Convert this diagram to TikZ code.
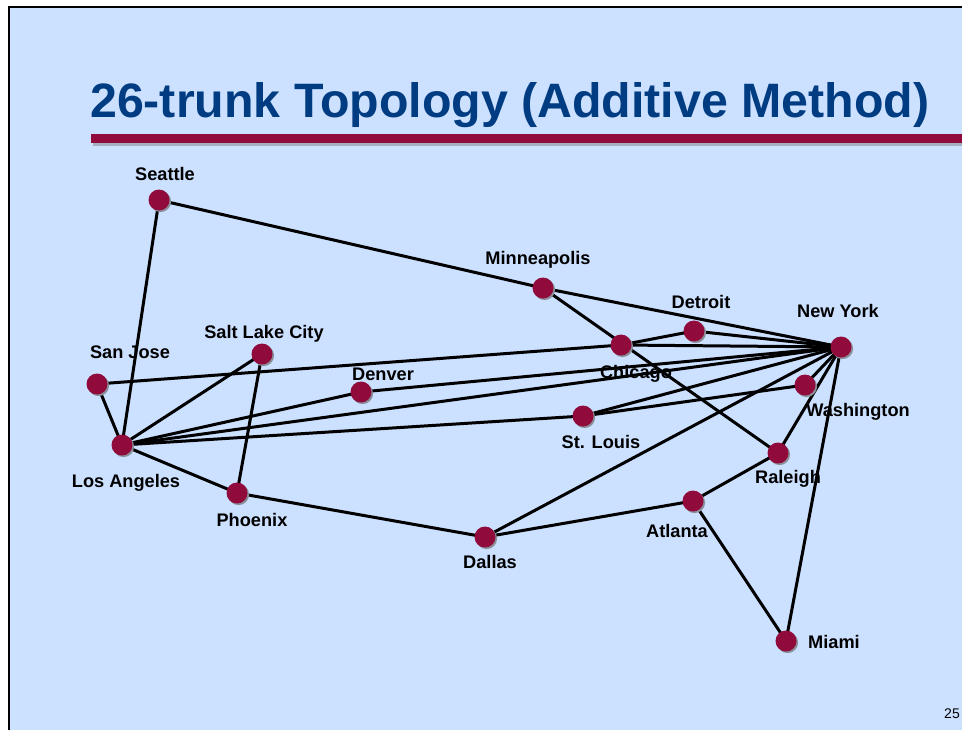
\documentclass[tikz,border=0pt]{standalone}
\usepackage{fontspec}
\setmainfont{Liberation Sans}
\usetikzlibrary{backgrounds}
\definecolor{slidebg}{HTML}{CCE0FF}
\definecolor{titleblue}{HTML}{003C82}
\definecolor{trunkred}{HTML}{900A3C}
\definecolor{shadowgray}{HTML}{8A8E98}
\begin{document}
\begin{tikzpicture}[x=1pt,y=-1pt,
  city/.style={circle, fill=trunkred, minimum size=21pt, inner sep=0pt,
    preaction={fill=shadowgray, transform canvas={xshift=1.6pt,yshift=-1.6pt}}},
  citylabel/.style={anchor=base, inner sep=0pt, font=\fontsize{18.2pt}{20pt}\selectfont\bfseries},
  trunk/.style={line width=3pt, black}
]
\useasboundingbox (0,0) rectangle (962,729);

% slide frame, kept beneath the trunks
\begin{scope}[on background layer]
  \fill[white] (0,0) rectangle (962,729);
  \clip (0,0) rectangle (962,729);
  \draw[line width=2pt, fill=slidebg] (9,7) rectangle (975,745);
\end{scope}

% title and rule
\node[anchor=base west, inner sep=0pt, text=titleblue,
  font=\fontsize{48.3pt}{52pt}\selectfont\bfseries] (title) at (90,117)
  {26-trunk Topology (Additive Method)};
\fill[shadowgray!60!slidebg] (93,136) rectangle (962,145.5);
\fill[trunkred] (91,134) rectangle (962,143);

% cities
\node[city] (sea) at (159,200) {};
\node[city] (min) at (543,288) {};
\node[city] (det) at (694,331) {};
\node[city] (ny)  at (841,347) {};
\node[city] (chi) at (621,345) {};
\node[city] (was) at (805,385) {};
\node[city] (stl) at (583,416) {};
\node[city] (ral) at (778,453) {};
\node[city] (atl) at (693,501) {};
\node[city] (mia) at (786,641) {};
\node[city] (dal) at (485,537) {};
\node[city] (phx) at (237,493) {};
\node[city] (la)  at (122,445) {};
\node[city] (sj)  at (97,384) {};
\node[city] (slc) at (262,354) {};
\node[city] (den) at (361,392) {};

% trunks
\begin{scope}[on background layer]
  \foreach \a/\b in {sea/min, min/ny, min/ral, sea/la, sj/la, sj/chi,
      chi/det, det/ny, chi/ny, la/slc, slc/phx, la/phx, phx/dal,
      la/den, den/ny, la/ny, la/stl, stl/ny, stl/was, was/ny,
      dal/ny, dal/atl, atl/ral, ral/ny, atl/mia, mia/ny}
    \draw[trunk] (\a.center) -- (\b.center);
\end{scope}

% city names
\node[citylabel] (lsea) at (165,180) {Seattle};
\node[citylabel] (lmin) at (538,264) {Minneapolis};
\node[citylabel] (ldet) at (701,308) {Detroit};
\node[citylabel] (lny)  at (838,317) {New York};
\node[citylabel] (lchi) at (636,378) {Chicago};
\node[citylabel] (lwas) at (858,416) {Washington};
\node[citylabel] (lstl) at (601,448) {St. Louis};
\node[citylabel] (lral) at (788,483) {Raleigh};
\node[citylabel] (latl) at (677,537) {Atlanta};
\node[citylabel] (lmia) at (834,648) {Miami};
\node[citylabel] (ldal) at (490,568) {Dallas};
\node[citylabel] (lphx) at (252,526) {Phoenix};
\node[citylabel] (lla)  at (126,487) {Los Angeles};
\node[citylabel] (lsj)  at (130,358) {San Jose};
\node[citylabel] (lslc) at (264,338) {Salt Lake City};
\node[citylabel] (lden) at (383,380) {Denver};

% page number
\node[anchor=base east, inner sep=0pt, font=\fontsize{14pt}{16pt}\selectfont] (page) at (960,718) {25};
\end{tikzpicture}
\end{document}
